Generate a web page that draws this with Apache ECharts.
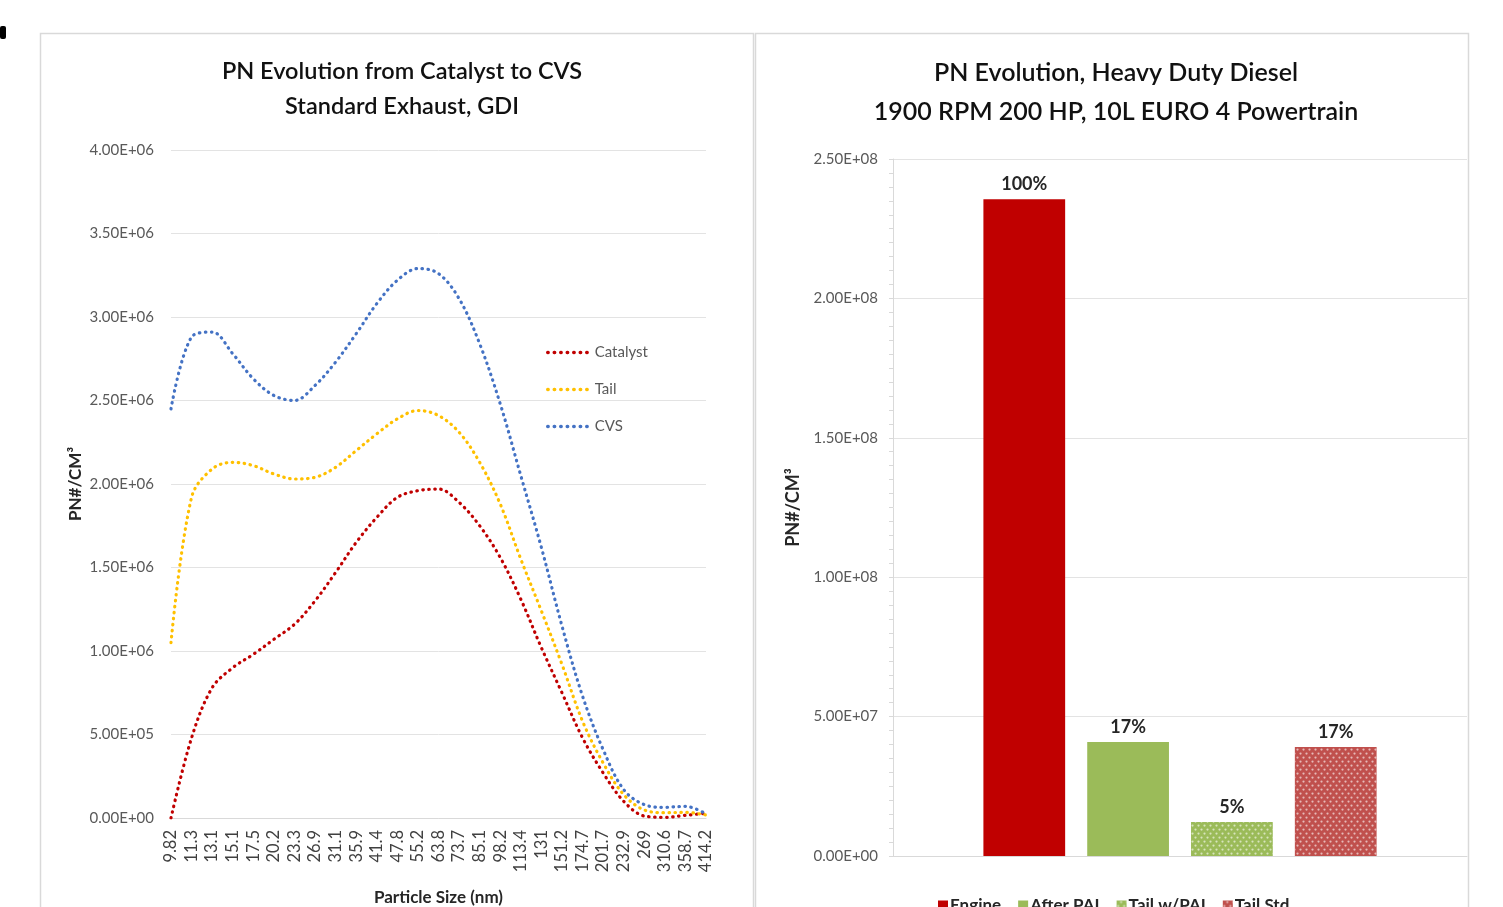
<!DOCTYPE html>
<html><head><meta charset="utf-8">
<script src="https://cdn.jsdelivr.net/npm/echarts@6/dist/echarts.min.js"></script>
<style>html,body{margin:0;padding:0;background:#fff;}#c{width:1503px;height:907px;}</style>
</head><body><div id="c"></div>
<script>
const sizeLabels = ['9.82','11.3','13.1','15.1','17.5','20.2','23.3','26.9','31.1','35.9','41.4','47.8','55.2','63.8','73.7','85.1','98.2','113.4','131','151.2','174.7','201.7','232.9','269','310.6','358.7','414.2'];
const catalyst = [0, 480000, 780000, 900000, 980000, 1070000, 1160000, 1300000, 1470000, 1650000, 1800000, 1920000, 1960000, 1970000, 1890000, 1750000, 1560000, 1310000, 1020000, 750000, 480000, 270000, 100000, 12000, 4000, 16000, 28000];
const tail = [1050000, 1920000, 2090000, 2130000, 2110000, 2060000, 2030000, 2040000, 2100000, 2200000, 2300000, 2390000, 2440000, 2410000, 2310000, 2130000, 1880000, 1550000, 1240000, 920000, 580000, 330000, 140000, 48000, 32000, 34000, 18000];
const cvs = [2450000, 2880000, 2910000, 2780000, 2630000, 2530000, 2500000, 2590000, 2730000, 2900000, 3080000, 3220000, 3290000, 3260000, 3110000, 2840000, 2480000, 2050000, 1620000, 1150000, 730000, 410000, 170000, 80000, 64000, 70000, 25000];
const barNames = ['Engine','After PAI','Tail w/PAI','Tail Std'];
const barValues = [235600000, 40900000, 12200000, 39100000];
const barLabels = ['100%','17%','5%','17%'];

const FONT = 'Lato, "Open Sans", sans-serif';
function sci(v){
  if (v === 0) return '0.00E+00';
  const e = Math.floor(Math.log10(Math.abs(v)) + 1e-9);
  const m = v / Math.pow(10, e);
  return m.toFixed(2) + 'E' + (e >= 0 ? '+' : '-') + String(Math.abs(e)).padStart(2,'0');
}
const dotStyle = (c) => ({color: c, width: 3.2, type: [0.5, 5.5], cap: 'round'});
const barColors = ['#C00000','#9BBB59','#9BBB59','#C0504D'];
const decal = {symbol:'circle', symbolSize: 0.75, color:'rgba(255,255,255,0.6)', dashArrayX:[[3,3],[0,3,3,0]], dashArrayY:[3,0.5]};

const chart = echarts.init(document.getElementById('c'), null, {renderer:'canvas'});
const lineSeries = [['Catalyst', catalyst, '#C00000'], ['Tail', tail, '#FFC000'], ['CVS', cvs, '#4472C4']].map(([n, d, c]) => ({
  name: n, type: 'line', xAxisIndex: 0, yAxisIndex: 0, data: d, smooth: 0.35, symbol: 'none',
  lineStyle: dotStyle(c), itemStyle: {color: c}
}));
const barSeries = barNames.map((n, i) => ({
  name: n, type: 'bar', xAxisIndex: 1, yAxisIndex: 1, data: [barValues[i]],
  barGap: '27%', barCategoryGap: '31.5%',
  itemStyle: Object.assign({color: barColors[i]}, (i >= 2 ? {decal: decal} : {})),
  label: {show: true, position: 'top', distance: 6, formatter: () => barLabels[i], fontFamily: FONT, fontWeight: 'bold', fontSize: 18, color: '#262626'}
}));

chart.setOption({
  animation: false,
  backgroundColor: '#fff',
  textStyle: {fontFamily: FONT},
  graphic: [
    {type:'rect', shape:{x:40.5, y:33.5, width:713, height:900}, style:{fill:'none', stroke:'#d9d9d9', lineWidth:1.5}, z:-1},
    {type:'rect', shape:{x:755.5, y:33.5, width:713, height:900}, style:{fill:'none', stroke:'#d9d9d9', lineWidth:1.5}, z:-1},
    {type:'rect', shape:{x:0, y:26, width:6, height:13, r:2}, style:{fill:'#000'}}
  ],
  title: [
    {text: 'PN Evolution from Catalyst to CVS\nStandard Exhaust, GDI', left: 397, top: 49, textAlign: 'center',
     textStyle: {fontFamily: FONT, fontSize: 23.5, fontWeight: 600, color: '#111', lineHeight: 35}},
    {text: 'PN Evolution, Heavy Duty Diesel\n1900 RPM 200 HP, 10L EURO 4 Powertrain', left: 1111, top: 48, textAlign: 'center',
     textStyle: {fontFamily: FONT, fontSize: 25, fontWeight: 600, color: '#111', lineHeight: 39}}
  ],
  legend: [
    {data: ['Catalyst','Tail','CVS'], orient: 'vertical', left: 541, top: 340, itemWidth: 45, itemHeight: 10, itemGap: 22,
     itemStyle: {opacity: 0},
     lineStyle: {width: 3.4, type: [0.5, 6], cap: 'round'},
     textStyle: {fontFamily: FONT, fontSize: 15, color: '#595959', padding: [0,0,0,-3]}},
    {data: barNames, orient: 'horizontal', left: 933, top: 892, itemWidth: 10, itemHeight: 10, itemGap: 17, icon: 'rect',
     textStyle: {fontFamily: FONT, fontSize: 17, fontWeight: 'bold', color: '#262626', padding: [0,0,0,-3]}}
  ],
  grid: [
    {left: 171, right: 1503 - 706, top: 150, bottom: 907 - 818, outerBoundsMode: 'none', containLabel: false},
    {left: 893, right: 1503 - 1467, top: 159, bottom: 907 - 856, outerBoundsMode: 'none', containLabel: false}
  ],
  xAxis: [
    {type: 'category', gridIndex: 0, data: sizeLabels, boundaryGap: false,
     name: 'Particle Size (nm)', nameLocation: 'middle', nameGap: 71,
     nameTextStyle: {fontFamily: FONT, fontSize: 17, fontWeight: 'bold', color: '#262626'},
     axisLine: {show: true, lineStyle: {color: '#d9d9d9', width: 1}}, axisTick: {show: false},
     axisLabel: {rotate: 90, interval: 0, margin: 12, fontFamily: FONT, fontSize: 16.5, color: '#404040'}},
    {type: 'category', gridIndex: 1, data: [''],
     axisLine: {show: true, lineStyle: {color: '#d9d9d9', width: 1}}, axisTick: {show: false}, axisLabel: {show: false}}
  ],
  yAxis: [
    {type: 'value', gridIndex: 0, min: 0, max: 4000000, interval: 500000,
     name: 'PN#/CM³', nameLocation: 'middle', nameGap: 87, nameRotate: 90,
     nameTextStyle: {fontFamily: FONT, fontSize: 17, fontWeight: 'bold', color: '#262626'},
     axisLine: {show: false}, axisTick: {show: false},
     splitLine: {lineStyle: {color: '#e3e3e3', width: 1}},
     axisLabel: {formatter: sci, margin: 17, fontFamily: FONT, fontSize: 15, color: '#595959'}},
    {type: 'value', gridIndex: 1, min: 0, max: 250000000, interval: 50000000,
     name: 'PN#/CM³', nameLocation: 'middle', nameGap: 91, nameRotate: 90,
     nameTextStyle: {fontFamily: FONT, fontSize: 18, fontWeight: 'bold', color: '#262626'},
     axisLine: {show: true, lineStyle: {color: '#d9d9d9', width: 1}},
     axisTick: {show: true, length: 4, lineStyle: {color: '#d9d9d9'}},
     minorTick: {show: true, splitNumber: 10, length: 4, lineStyle: {color: '#d9d9d9'}},
     splitLine: {lineStyle: {color: '#e3e3e3', width: 1}},
     axisLabel: {formatter: sci, margin: 15, fontFamily: FONT, fontSize: 15, color: '#595959'}}
  ],
  series: lineSeries.concat(barSeries)
});
</script></body></html>
